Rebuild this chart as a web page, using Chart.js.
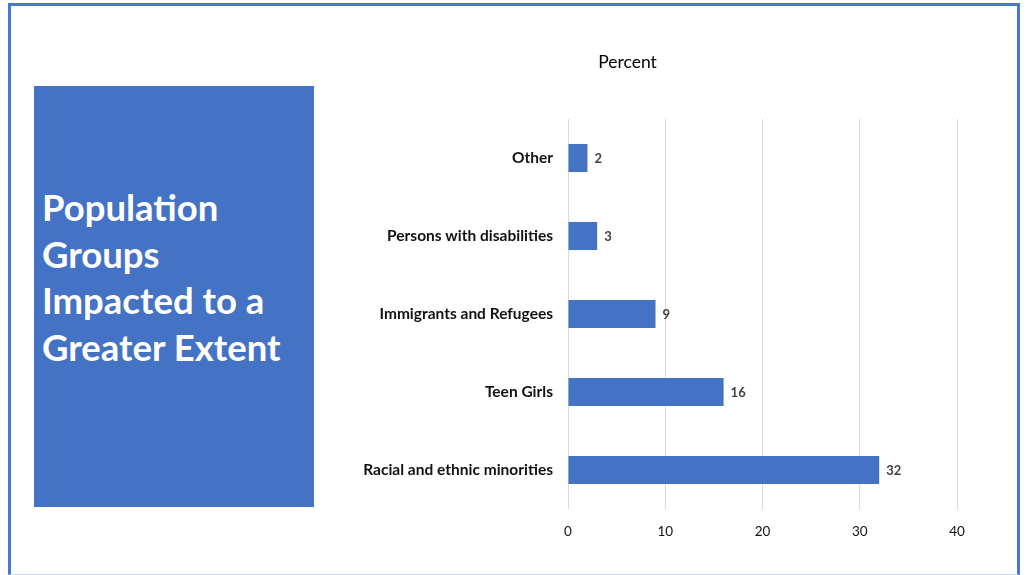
<!DOCTYPE html>
<html>
<head>
<meta charset="utf-8">
<script src="https://cdn.jsdelivr.net/npm/chart.js@4/dist/chart.umd.min.js"></script>
<style>
  html, body { margin: 0; padding: 0; width: 1027px; height: 575px; overflow: hidden; background: #fff; }
  #frame {
    position: absolute; left: 8px; top: 3px; width: 1012px; height: 572px;
    border: 3px solid #4a78c8; border-bottom: 1px solid #c9d8f0; box-sizing: border-box;
  }
  #sideBox {
    position: absolute; left: 34px; top: 86px; width: 280px; height: 421px;
    background: #4472c4;
  }
  #sideBox div {
    position: absolute; left: 8px; top: 98px;
    font-family: Lato, "Open Sans", sans-serif; font-weight: bold; font-size: 36.5px;
    line-height: 46.7px; color: #fff;
  }
  #chartWrap { position: absolute; left: 298px; top: 40px; width: 722px; height: 520px; }
</style>
</head>
<body>
<div id="frame"></div>
<div id="sideBox"><div>Population<br>Groups<br>Impacted to a<br>Greater Extent</div></div>
<div id="chartWrap"><canvas id="barChart"></canvas></div>
<script>
// Data
const categories = ['Other', 'Persons with disabilities', 'Immigrants and Refugees', 'Teen Girls', 'Racial and ethnic minorities'];
const percentValues = [2, 3, 9, 16, 32];
const xTicks = [0, 10, 20, 30, 40];

// Value labels at the end of each bar
const barValueLabels = {
    id: 'barValueLabels',
    afterDatasetsDraw(chart) {
        const ctx = chart.ctx;
        const meta = chart.getDatasetMeta(0);
        ctx.save();
        ctx.font = 'bold 13px Lato, "Open Sans", sans-serif';
        ctx.fillStyle = '#404040';
        ctx.textAlign = 'left';
        ctx.textBaseline = 'middle';
        meta.data.forEach((bar, i) => {
            ctx.fillText(percentValues[i], bar.x + 7, bar.y + 1);
        });
        ctx.restore();
    }
};

document.addEventListener('DOMContentLoaded', function() {
    const barChart = new Chart(document.getElementById('barChart'), {
        type: 'bar',
        data: {
            labels: categories,
            datasets: [{
                label: 'Percent',
                data: percentValues,
                backgroundColor: '#4472c4',
                barPercentage: 0.36,
                categoryPercentage: 1
            }]
        },
        options: {
            indexAxis: 'y',
            responsive: true,
            maintainAspectRatio: false,
            animation: false,
            layout: { padding: { top: 0, right: 63, bottom: 0, left: 0 } },
            plugins: {
                legend: { display: false },
                tooltip: { enabled: false },
                title: {
                    display: true,
                    text: 'Percent',
                    color: '#000',
                    font: { family: 'Lato, "Open Sans", sans-serif', size: 17.5, weight: 'normal' },
                    padding: { top: 12, bottom: 46 }
                }
            },
            scales: {
                x: {
                    min: 0,
                    max: 40,
                    afterBuildTicks(axis) {
                        axis.ticks = xTicks.map(v => ({ value: v }));
                    },
                    afterFit(axis) { axis.height = 51; },
                    grid: { color: '#d9d9d9', drawTicks: false },
                    border: { display: false },
                    ticks: {
                        color: '#111',
                        padding: 15,
                        font: { family: 'Lato, "Open Sans", sans-serif', size: 13.5 }
                    }
                },
                y: {
                    afterFit(axis) { axis.width = 270; },
                    grid: { display: false, drawTicks: false },
                    border: { display: false },
                    ticks: {
                        color: '#111',
                        padding: 15,
                        font: { family: 'Lato, "Open Sans", sans-serif', size: 15.5, weight: 'bold' }
                    }
                }
            }
        },
        plugins: [barValueLabels]
    });
});
</script>
</body>
</html>
